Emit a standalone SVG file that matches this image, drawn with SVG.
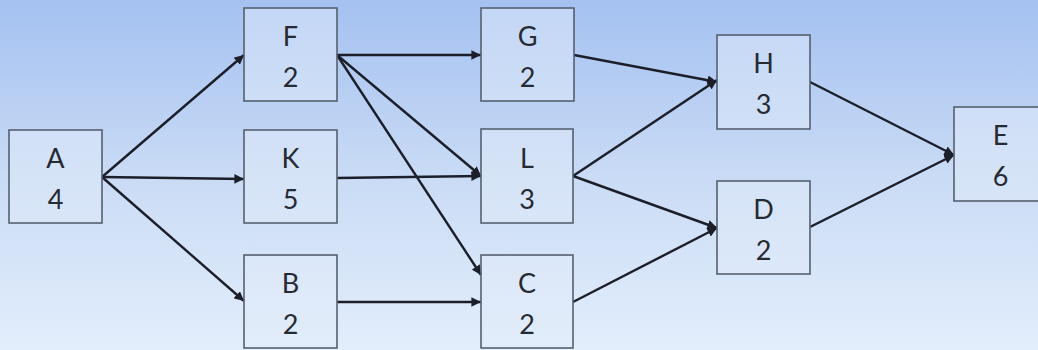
<svg xmlns="http://www.w3.org/2000/svg" width="1038" height="350" viewBox="0 0 1038 350">
  <defs>
    <linearGradient id="bg" x1="0" y1="0" x2="0" y2="1">
      <stop offset="0" stop-color="#a4c1f1"/>
      <stop offset="0.5" stop-color="#c9dbf5"/>
      <stop offset="1" stop-color="#e3eefc"/>
    </linearGradient>
    <marker id="arrow" viewBox="0 0 10 10" refX="10" refY="5" markerWidth="4" markerHeight="4" orient="auto" markerUnits="strokeWidth">
      <path d="M0,0 L10,5 L0,10 z" fill="#1c1f2a"/>
    </marker>
    <style>
      .box { fill: #e2ecfa; fill-opacity: 0.5; stroke: #566070; stroke-width: 1.6; }
      .lbl { font-family: Lato, "Open Sans", "Liberation Sans", sans-serif; font-size: 27px; fill: #262a33; text-anchor: middle; }
      .edge { stroke: #1c1f2a; stroke-width: 2.4; fill: none; marker-end: url(#arrow); }
    </style>
  </defs>

  <rect width="1038" height="350" fill="url(#bg)"/>

  <!-- connectors -->
  <g id="connectors">
    <line class="edge" x1="102" y1="177" x2="244" y2="55"/>
    <line class="edge" x1="102" y1="177" x2="244" y2="179"/>
    <line class="edge" x1="102" y1="177" x2="244" y2="301"/>
    <line class="edge" x1="337" y1="55" x2="481" y2="55"/>
    <line class="edge" x1="337" y1="55" x2="481" y2="176"/>
    <line class="edge" x1="337" y1="55" x2="481" y2="275"/>
    <line class="edge" x1="337" y1="178" x2="481" y2="176"/>
    <line class="edge" x1="337" y1="302" x2="481" y2="302"/>
    <line class="edge" x1="574" y1="55" x2="717" y2="82"/>
    <line class="edge" x1="573" y1="176" x2="717" y2="80"/>
    <line class="edge" x1="573" y1="176" x2="717" y2="228"/>
    <line class="edge" x1="573" y1="302" x2="717" y2="228"/>
    <line class="edge" x1="810" y1="82" x2="954" y2="155"/>
    <line class="edge" x1="810" y1="227" x2="954" y2="155"/>
  </g>

  <!-- nodes -->
  <g id="node-A">
    <rect class="box" x="9" y="130" width="93" height="93"/>
    <text class="lbl" x="55.5" y="168">A</text>
    <text class="lbl" x="55.5" y="209">4</text>
  </g>
  <g id="node-F">
    <rect class="box" x="244" y="8" width="93" height="93"/>
    <text class="lbl" x="290.5" y="46">F</text>
    <text class="lbl" x="290.5" y="87">2</text>
  </g>
  <g id="node-K">
    <rect class="box" x="244" y="130" width="93" height="93"/>
    <text class="lbl" x="290.5" y="168">K</text>
    <text class="lbl" x="290.5" y="209">5</text>
  </g>
  <g id="node-B">
    <rect class="box" x="244" y="255" width="93" height="93"/>
    <text class="lbl" x="290.5" y="293">B</text>
    <text class="lbl" x="290.5" y="334">2</text>
  </g>
  <g id="node-G">
    <rect class="box" x="481" y="8" width="93" height="93"/>
    <text class="lbl" x="527.5" y="46">G</text>
    <text class="lbl" x="527.5" y="87">2</text>
  </g>
  <g id="node-L">
    <rect class="box" x="481" y="129" width="92" height="94"/>
    <text class="lbl" x="527" y="168">L</text>
    <text class="lbl" x="527" y="209">3</text>
  </g>
  <g id="node-C">
    <rect class="box" x="481" y="255" width="92" height="93"/>
    <text class="lbl" x="527" y="293">C</text>
    <text class="lbl" x="527" y="334">2</text>
  </g>
  <g id="node-H">
    <rect class="box" x="717" y="35" width="93" height="94"/>
    <text class="lbl" x="763.5" y="73">H</text>
    <text class="lbl" x="763.5" y="114">3</text>
  </g>
  <g id="node-D">
    <rect class="box" x="717" y="181" width="93" height="93"/>
    <text class="lbl" x="763.5" y="219">D</text>
    <text class="lbl" x="763.5" y="260">2</text>
  </g>
  <g id="node-E">
    <rect class="box" x="954" y="107" width="93" height="94"/>
    <text class="lbl" x="1000.5" y="145">E</text>
    <text class="lbl" x="1000.5" y="186">6</text>
  </g>
</svg>
